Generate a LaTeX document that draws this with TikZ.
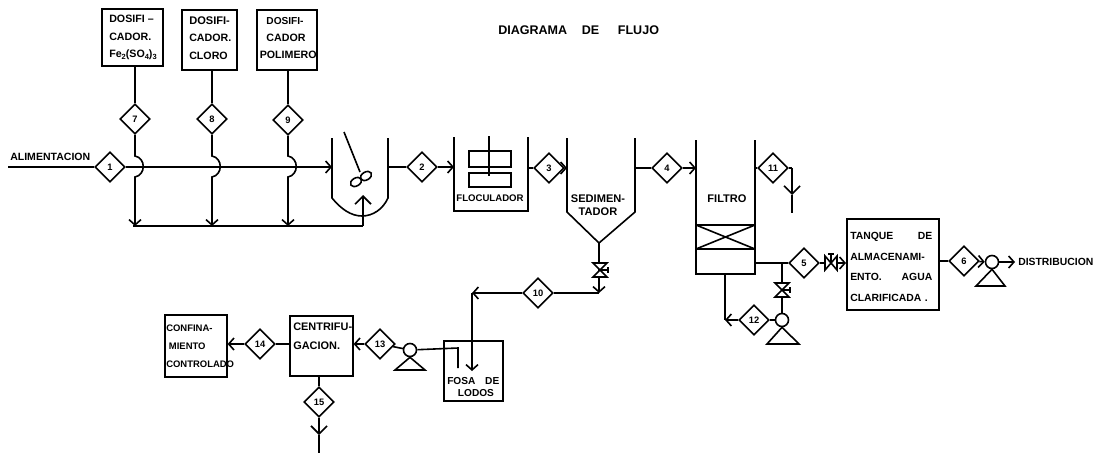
\documentclass[tikz,border=0pt]{standalone}
\usepackage{fontspec}
\setmainfont{Liberation Sans}
\usetikzlibrary{arrows.meta,shapes.geometric,calc}
\newlength\pxu \setlength\pxu{0.75pt}
\newcommand\subsc[1]{\raisebox{-0.35ex}{\fontsize{5.6}{5.6}\selectfont #1}}
\newcommand\fsz[2]{\fontsize{#1}{#2}\selectfont}
\tikzset{
  ln/.style={line width=1.2pt,line join=miter},
  flow/.style={ln,-{Straight Barb[length=4pt,width=9pt,line width=1.2pt]}},
  drain/.style={ln,-{Straight Barb[length=6pt,width=12pt,line width=1.2pt]}},
  dia/.style={draw,line width=1.2pt,diamond,aspect=1,minimum width=30\pxu,minimum height=30\pxu,inner sep=0pt,font=\bfseries\fontsize{7}{7}\selectfont},
  pbox/.style={draw,line width=1.2pt,rectangle,inner sep=0pt},
  lab/.style={inner sep=0pt,font=\bfseries\fontsize{8}{13}\selectfont,align=left,anchor=west},
  labc/.style={inner sep=0pt,font=\bfseries\fontsize{8.3}{10}\selectfont,align=center},
  pumpc/.style={draw,line width=1.2pt,circle,minimum size=13\pxu,inner sep=0pt,fill=white},
  vvalve/.pic={
    \draw[line width=1.2pt,fill=white] (-7,-7)--(7,-7)--(-7,7)--(7,7)--cycle;
    \draw[line width=1.2pt] (0,0)--(8,0) (8,-3)--(8,3);
  },
  hvalve/.pic={
    \draw[line width=1.2pt,fill=white] (-6,-7)--(-6,7)--(6,-7)--(6,7)--cycle;
    \draw[line width=1.2pt] (0,0)--(0,-9) (-3,-9)--(3,-9);
  }
}
\begin{document}
\begin{tikzpicture}[x=0.75pt,y=-0.75pt]
\useasboundingbox (0,0) rectangle (1094,454);
\fill[white] (0,0) rectangle (1094,454);

% title
\node[lab,font=\bfseries\fsz{9.4}{10}] (title) at (498,30) {DIAGRAMA\hspace{11pt}DE\hspace{14pt}FLUJO};

% dosing boxes
\node[pbox,minimum width=61\pxu,minimum height=57\pxu] (dosA) at (132.5,37.5) {};
\node[pbox,minimum width=55\pxu,minimum height=60\pxu] (dosB) at (209.5,40) {};
\node[pbox,minimum width=60\pxu,minimum height=60\pxu] (dosC) at (287,40) {};
\node[lab] (tA) at (109,37.5) {\fsz{8}{13}DOSIFI --\\CADOR.\\Fe\subsc{2}(SO\subsc{4})\subsc{3}};
\node[lab] (tB) at (189,38) {\fsz{8.3}{13}DOSIFI-\\CADOR.\\CLORO};
\node[lab] (tC) at (259.5,38) {\fsz{7.6}{13}\hspace*{5pt}DOSIFI-\\\hspace*{5pt}CADOR\\POLIMERO};

% diamonds
\node[dia] (d7) at (135,119) {7};
\node[dia] (d8) at (212,119) {8};
\node[dia] (d9) at (288,120) {9};
\node[dia] (d1) at (110,167) {1};
\node[dia] (d2) at (422,167) {2};
\node[dia] (d3) at (549,168) {3};
\node[dia] (d4) at (667,168) {4};
\node[dia] (d11) at (773,168) {11};
\node[dia] (d5) at (804,263) {5};
\node[dia] (d6) at (964,261) {6};
\node[dia] (d10) at (538,293) {10};
\node[dia] (d12) at (754,320) {12};
\node[dia] (d13) at (380,344) {13};
\node[dia] (d14) at (260,344) {14};
\node[dia] (d15) at (319,402) {15};

% feed
\coordinate (feed) at (8,167);
\coordinate (mixL) at (332,167);
\node[lab,font=\bfseries\fsz{7.9}{9}] (tFeed) at (10,157) {ALIMENTACION};
\draw[ln] (feed) -- (d1);
\draw[flow] (d1) -- (mixL);

% dosing lines
\draw[ln] (dosA.south -| d7) -- (d7);
\draw[ln] (dosB.south -| d8) -- (d8);
\draw[ln] (dosC.south -| d9) -- (d9);
\coordinate (col) at (363,226);
\draw[flow] (d7.south) -- (135,156) .. controls (146,158) and (146,175) .. (135,177) -- (d7 |- col);
\draw[flow] (d8.south) -- (212,156) .. controls (223,158) and (223,175) .. (212,177) -- (d8 |- col);
\draw[flow] (d9.south) -- (288,156) .. controls (299,158) and (299,175) .. (288,177) -- (d9 |- col);
\draw[ln] (133,226) -- (col);
\coordinate (mixIn) at (363,195);
\draw[drain] (col) -- (mixIn);

% mixer
\coordinate (mixTL) at (332,138);
\coordinate (mixTR) at (388,138);
\draw[ln] (mixTL) -- (332,198) .. controls (341,209) and (351,216) .. (362,216) .. controls (373,216) and (383,209) .. (388,198) -- (mixTR);
\coordinate (agTop) at (344,132);
\coordinate (agBot) at (360,172);
\draw[ln] (agTop) -- (agBot);
\draw[ln,rotate around={30:(356,182)}] (356,182) ellipse [x radius=6,y radius=4];
\draw[ln,rotate around={30:(366,176)}] (366,176) ellipse [x radius=6,y radius=4];

% flocculator
\coordinate (flTL) at (454,137);
\coordinate (flTR) at (528,137);
\draw[ln] (flTL) -- (454,211) -- (528,211) -- (flTR);
\node[pbox,minimum width=42\pxu,minimum height=16\pxu] (fl1) at (490,159) {};
\node[pbox,minimum width=42\pxu,minimum height=14\pxu] (fl2) at (490,180) {};
\coordinate (shaftT) at (489,136);
\coordinate (shaftB) at (489,176);
\draw[ln] (shaftT) -- (shaftB);
\node[labc,font=\bfseries\fsz{7.2}{9}] (tFloc) at (490,198.5) {FLOCULADOR};
\draw[ln] (mixTR |- d2) -- (d2);
\draw[flow] (d2) -- (flTL |- d2);

% settler
\coordinate (seTL) at (567,138);
\coordinate (seTR) at (635,138);
\coordinate (seAp) at (599,243);
\draw[ln] (seTL) -- (567,212) -- (seAp) -- (635,212) -- (seTR);
\node[labc] (tSed) at (598,205.5) {SEDIMEN-\\TADOR};
\draw[ln] (flTR |- d3) -- (d3);
\draw[flow] (d3) -- (seTL |- d3);
\draw[ln] (seTR |- d4) -- (d4);

% sludge line
\coordinate (slJ) at (599,293);
\coordinate (v1) at (600,270);
\coordinate (slT) at (472,293);
\draw[flow] (seAp) -- (slJ);
\pic at (v1) {vvalve};
\draw[ln] (slJ) -- (d10);
\draw[flow] (d10) -- (slT);

% filter
\coordinate (fiTL) at (696,140);
\coordinate (fiTR) at (755,140);
\draw[ln] (fiTL) -- (696,274) -- (755,274) -- (fiTR);
\draw[ln] (696,225) -- (755,225) (696,249) -- (755,249) (696,225) -- (755,249) (696,249) -- (755,225);
\node[labc] (tFil) at (727,199) {FILTRO};
\draw[flow] (d4) -- (fiTL |- d4);
\draw[ln] (fiTR |- d11) -- (d11);
\coordinate (o11a) at (792,168);
\coordinate (o11b) at (792,195);
\coordinate (o11c) at (792,213);
\draw[ln] (d11) -- (o11a);
\draw[drain] (o11a) -- (o11b);
\draw[ln] (o11b) -- (o11c);

% clear water
\node[pbox,minimum width=92\pxu,minimum height=91\pxu,anchor=north west] (tank) at (846,218) {};
\node[lab,text width=82\pxu,font=\bfseries\fsz{7.8}{15.5}] (tTank) at (850,267) {TANQUE\hfill DE\\ALMACENAMI-\\ENTO.\hfill AGUA\\CLARIFICADA .};
\coordinate (br) at (782,263);
\coordinate (v5) at (831,263);
\draw[ln] (755,263) -- (d5);
\draw[flow] (d5) -- (tank.west |- d5);
\pic at (v5) {hvalve};
\node[pumpc] (p12) at (782,320) {};
\coordinate (v12) at (782,290);
\draw[ln] (br) -- (p12);
\pic at (v12) {vvalve};
\draw[ln] (p12.south) -- (767,344) -- (799,344) -- cycle;
\draw[ln] (p12) -- (d12);
\coordinate (wash) at (725,320);
\draw[flow] (d12) -- (wash);
\draw[line width=1.6pt] (725,274) -- (wash);

% distribution
\node[pumpc] (p6) at (992,262) {};
\draw[ln] (p6.south) -- (976,286) -- (1005,286) -- cycle;
\draw[ln] (tank.east |- d6) -- (d6);
\draw[flow] (d6) -- (p6);
\coordinate (dist) at (1015,262);
\draw[flow] (p6) -- (dist);
\node[lab,font=\bfseries\fsz{7.8}{9}] (tDist) at (1018,262) {DISTRIBUCION};

% sludge treatment
\node[pbox,minimum width=59\pxu,minimum height=60\pxu,anchor=north west] (fosa) at (443,340) {};
\node[lab,text width=52\pxu,font=\bfseries\fsz{7.6}{9}] (tFosa) at (447,387) {FOSA\hfill DE\\\hspace*{8pt}LODOS};
\coordinate (fIn) at (472,371);
\draw[flow] (slT) -- (fIn);
\node[pumpc] (p13) at (410,350) {};
\draw[ln] (p13.south) -- (395,370) -- (425,370) -- cycle;
\coordinate (fOutA) at (458,348);
\coordinate (fOutB) at (458,368);
\draw[ln] (p13) -- (fOutA) -- (fOutB);
\draw[ln] (d13) -- (p13);
\node[pbox,minimum width=63\pxu,minimum height=60\pxu,anchor=north west] (cen) at (289,315) {};
\node[lab,font=\bfseries\fsz{8.2}{14}] (tCen) at (293,336.5) {CENTRIFU-\\GACION.};
\draw[flow] (d13) -- (cen.east |- d13);
\node[pbox,minimum width=62\pxu,minimum height=62\pxu,anchor=north west] (con) at (164,314) {};
\node[lab,text width=60\pxu,font=\bfseries\fsz{7.1}{13.5}] (tCon) at (166,346) {CONFINA-\\\hspace*{2pt}MIENTO\\CONTROLADO};
\draw[ln] (cen.west |- d14) -- (d14);
\draw[flow] (d14) -- (con.east |- d14);
\draw[ln] (cen.south -| d15) -- (d15);
\coordinate (o15b) at (319,435);
\coordinate (o15c) at (319,453);
\draw[drain] (d15) -- (o15b);
\draw[ln] (o15b) -- (o15c);
\end{tikzpicture}
\end{document}
